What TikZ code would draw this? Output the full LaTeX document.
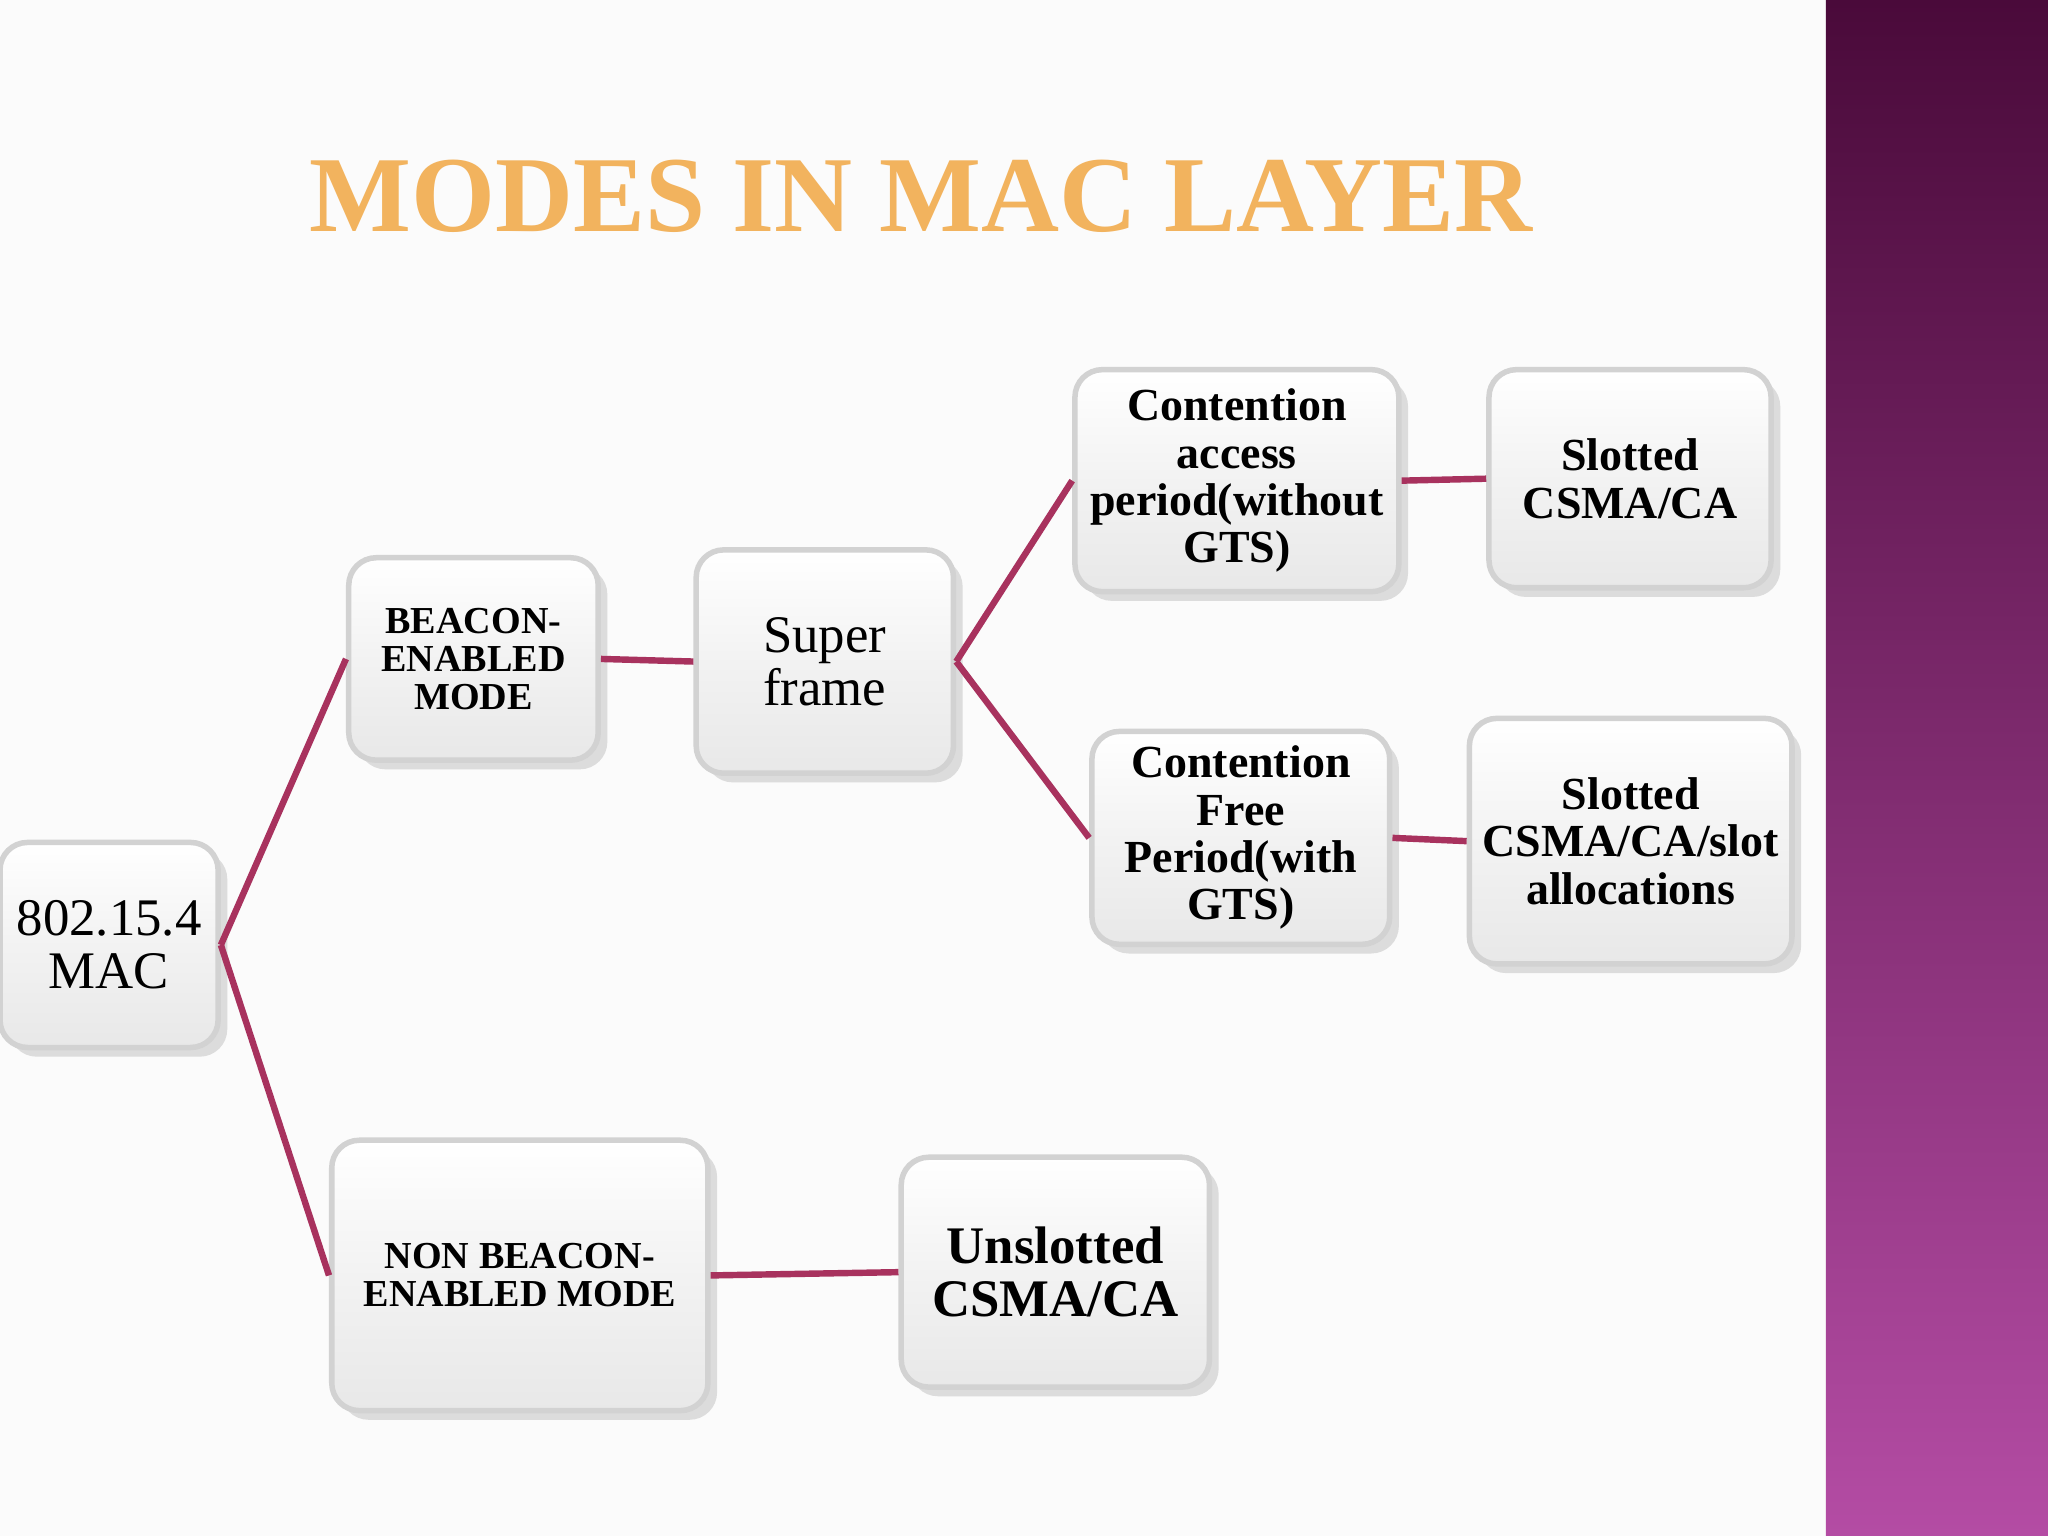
\documentclass[tikz,border=0pt]{standalone}
\usepackage{fontspec}
\setmainfont{Liberation Serif}
\usetikzlibrary{shadows}
\definecolor{conn}{HTML}{A8325E}
\definecolor{ttl}{HTML}{F2B35E}
\tikzset{
  box/.style={draw=gray!35, line width=1.2pt, rounded corners=6pt,
    top color=white, bottom color=gray!18, middle color=gray!10,
    drop shadow={opacity=0.25, shadow xshift=2pt, shadow yshift=-2pt},
    align=center, inner sep=2pt},
  link/.style={draw=conn, line width=1.4pt},
  rg/.style={font=\fontsize{11.5}{11.5}\selectfont},
  bs/.style={font=\bfseries\fontsize{8.3}{8.3}\selectfont},
  bm/.style={font=\bfseries\fontsize{10}{10.3}\selectfont},
  bl/.style={font=\bfseries\fontsize{11.5}{11.6}\selectfont}
}
\begin{document}
\begin{tikzpicture}[x=0.01cm,y=-0.01cm]
\useasboundingbox (0,0) rectangle (1568,1176);
\fill[gray!3] (0,0) rectangle (1398,1176);
\shade[top color={rgb,255:red,74;green,10;blue,58}, bottom color={rgb,255:red,180;green,76;blue,164}] (1398,0) rectangle (1568,1176);
\node[font=\bfseries\fontsize{23.5}{23.5}\selectfont, text=ttl, draw=none] (title) at (705,150) {MODES IN MAC LAYER};
\newcommand\bx[6]{\node[box,#6,minimum width={(#3-#1)*0.01cm},minimum height={(#4-#2)*0.01cm}] (#5) at ({(#1+#3)/2},{(#2+#4)/2})}
\bx{0}{645}{167}{802}{mac}{rg}{802.15.4\\MAC};
\bx{267}{427}{458}{582}{beac}{bs}{BEACON-\\ENABLED\\MODE};
\bx{533}{421}{730}{592}{sup}{rg}{Super\\frame};
\bx{823}{283}{1071}{453}{cap}{bm}{Contention\\access\\period(without\\GTS)};
\bx{1140}{283}{1356}{450}{sl}{bm}{Slotted\\CSMA/CA};
\bx{836}{560}{1064}{723}{cfp}{bm}{Contention\\Free\\Period(with\\GTS)};
\bx{1125}{550}{1372}{738}{sls}{bm}{Slotted\\CSMA/CA/slot\\allocations};
\bx{254}{873}{542}{1080}{non}{bs}{NON BEACON-\\ENABLED MODE};
\bx{690}{886}{926}{1062}{uns}{bl}{Unslotted\\CSMA/CA};
\draw[link] (mac.east) -- (beac.west);
\draw[link] (mac.east) -- (non.west);
\draw[link] (beac.east) -- (sup.west);
\draw[link] (sup.east) -- (cap.west);
\draw[link] (sup.east) -- (cfp.west);
\draw[link] (cap.east) -- (sl.west);
\draw[link] (cfp.east) -- (sls.west);
\draw[link] (non.east) -- (uns.west);
\end{tikzpicture}
\end{document}
